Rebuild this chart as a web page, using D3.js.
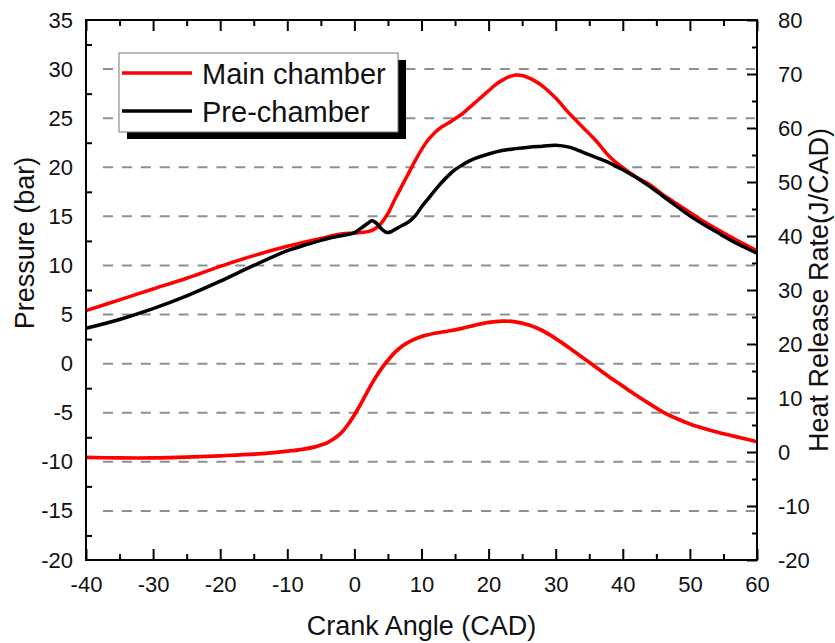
<!DOCTYPE html>
<html><head><meta charset="utf-8">
<script src="https://cdn.jsdelivr.net/npm/d3@7"></script>
<style>body{margin:0;background:#fff}svg{display:block;font-family:"Liberation Sans",Arial,sans-serif}</style>
</head><body><svg id="c" width="835" height="643"></svg>
<script>
// ---- data ----
const xTicks = [-40,-30,-20,-10,0,10,20,30,40,50,60];
const pTicks = [-20,-15,-10,-5,0,5,10,15,20,25,30,35];
const hTicks = [-20,-10,0,10,20,30,40,50,60,70,80];

const mainCAD = [-40,-35,-30,-25,-20,-15,-10,-5,-2,0,2,3,4,5,6,7,8,9,10,11,12,13,14,15,16,17,18,19,20,21,22,23,24,25,26,27,28,30,32,34,36,38,40,42,44,46,48,50,52,54,56,58,60];
const mainP = [5.4,6.5,7.6,8.7,9.9,11.0,11.95,12.75,13.2,13.3,13.45,13.7,14.3,15.3,16.7,18.0,19.3,20.6,21.8,22.8,23.55,24.1,24.5,24.95,25.4,26.0,26.6,27.2,27.8,28.4,28.85,29.2,29.4,29.35,29.1,28.75,28.3,27.05,25.5,24.1,22.7,21.1,19.95,19.0,18.25,17.2,16.3,15.4,14.5,13.7,12.95,12.2,11.5];

const preCAD = [-40,-35,-30,-25,-20,-15,-10,-7,-5,-3,-1,0,1,2,2.6,3.2,4,4.8,5.5,6.5,8,9,10,11,12,13,14,15,16,17,18,20,22,24,26,28,30,32,34,36,38,40,42,44,46,48,50,52,54,56,58,60];
const preP = [3.6,4.5,5.6,6.9,8.4,10.0,11.5,12.15,12.55,12.9,13.15,13.35,13.8,14.3,14.55,14.35,13.75,13.35,13.45,13.85,14.4,15.0,15.95,16.8,17.65,18.45,19.15,19.75,20.2,20.6,20.9,21.35,21.7,21.9,22.05,22.15,22.25,22.05,21.55,21.0,20.45,19.75,18.95,18.05,17.05,16.05,15.05,14.2,13.4,12.6,11.9,11.24];

const hrrCAD = [-40,-35,-30,-25,-20,-15,-12,-10,-8,-6,-5,-4,-3,-2,-1,0,1,2,3,4,5,6,7,8,9,10,12,14,16,18,20,22,24,26,28,30,32,34,36,38,40,42,44,46,48,50,52,54,56,58,60];
const hrr = [-1.0,-1.1,-1.1,-0.95,-0.7,-0.4,-0.1,0.15,0.45,0.9,1.3,1.75,2.5,3.5,5.0,6.9,9.0,11.3,13.5,15.4,17.0,18.4,19.5,20.3,20.9,21.4,22.0,22.4,22.9,23.5,24.0,24.25,24.1,23.5,22.5,21.0,19.3,17.5,15.7,13.9,12.2,10.5,8.9,7.4,6.2,5.2,4.4,3.7,3.1,2.5,1.9];

const legendLabels = ["Main chamber","Pre-chamber"];
const seriesColors = ["#ff0000","#000000"];

// ---- layout ----
const L=86, R=757, T=20, B=560;
const svg = d3.select("#c");
const x = d3.scaleLinear().domain([-40,60]).range([L,R]);
const yP = d3.scaleLinear().domain([-20,35]).range([B,T]);
const yH = d3.scaleLinear().domain([-20,80]).range([B,T]);
const fmt = d => String(d);

// grid
svg.append("g").selectAll("line").data(pTicks.filter(d=>d>-20&&d<35)).join("line")
  .attr("x1",L+17).attr("x2",R-2).attr("y1",d=>yP(d)).attr("y2",d=>yP(d))
  .attr("stroke","#8f8f8f").attr("stroke-width",2).attr("stroke-dasharray","10,8.9");

// lines
const lineP = d3.line().curve(d3.curveCatmullRom.alpha(0.5));
svg.append("path").attr("d", lineP(mainCAD.map((c,i)=>[x(c),yP(mainP[i])])))
  .attr("fill","none").attr("stroke",seriesColors[0]).attr("stroke-width",3.5);
svg.append("path").attr("d", lineP(preCAD.map((c,i)=>[x(c),yP(preP[i])])))
  .attr("fill","none").attr("stroke",seriesColors[1]).attr("stroke-width",3.5);
svg.append("path").attr("d", lineP(hrrCAD.map((c,i)=>[x(c),yH(hrr[i])])))
  .attr("fill","none").attr("stroke",seriesColors[0]).attr("stroke-width",3.7);

// axes
function styleAxis(g){
  g.select(".domain").remove();
  g.selectAll("line").attr("stroke","#000").attr("stroke-width",2);
  g.selectAll("text").attr("font-size",22).attr("fill","#111").attr("font-family","'Liberation Sans',Arial,sans-serif");
}
const xMinor = d3.range(-35,60,10);
// bottom
svg.append("g").attr("transform",`translate(0,${B})`)
  .call(d3.axisBottom(x).tickValues(xTicks).tickFormat(fmt).tickSizeInner(-11).tickSizeOuter(0).tickPadding(16))
  .call(styleAxis);
svg.append("g").attr("transform",`translate(0,${B})`)
  .call(d3.axisBottom(x).tickValues(xMinor).tickFormat("").tickSizeInner(-6).tickSizeOuter(0)).call(styleAxis);
// top
svg.append("g").attr("transform",`translate(0,${T})`)
  .call(d3.axisTop(x).tickValues(xTicks).tickFormat("").tickSizeInner(-11).tickSizeOuter(0)).call(styleAxis);
svg.append("g").attr("transform",`translate(0,${T})`)
  .call(d3.axisTop(x).tickValues(xMinor).tickFormat("").tickSizeInner(-6).tickSizeOuter(0)).call(styleAxis);
// left
svg.append("g").attr("transform",`translate(${L},0)`)
  .call(d3.axisLeft(yP).tickValues(pTicks).tickFormat(fmt).tickSizeInner(0).tickSizeOuter(0).tickPadding(13))
  .call(styleAxis);
svg.append("g").attr("transform",`translate(${L},0)`)
  .call(d3.axisLeft(yP).tickValues(d3.range(-17.5,35,5)).tickFormat("").tickSizeInner(-6).tickSizeOuter(0)).call(styleAxis);
// right
svg.append("g").attr("transform",`translate(${R},0)`)
  .call(d3.axisRight(yH).tickValues(hTicks).tickFormat(fmt).tickSizeInner(-10).tickSizeOuter(0).tickPadding(21))
  .call(styleAxis);
svg.append("g").attr("transform",`translate(${R},0)`)
  .call(d3.axisRight(yH).tickValues(d3.range(-15,80,10)).tickFormat("").tickSizeInner(-5).tickSizeOuter(0)).call(styleAxis);

// frame
svg.append("rect").attr("x",L).attr("y",T).attr("width",R-L).attr("height",B-T)
  .attr("fill","none").attr("stroke","#000").attr("stroke-width",2);

// titles
svg.append("text").attr("x",(L+R)/2).attr("y",635).attr("text-anchor","middle")
  .attr("font-size",27).attr("fill","#111").text("Crank Angle (CAD)");
svg.append("text").attr("transform","translate(34,243) rotate(-90)").attr("text-anchor","middle")
  .attr("font-size",27).attr("fill","#111").text("Pressure (bar)");
svg.append("text").attr("transform","translate(828,290) rotate(-90)").attr("text-anchor","middle")
  .attr("font-size",27).attr("fill","#111").text("Heat Release Rate(J/CAD)");

// legend
const lg = svg.append("g");
lg.append("rect").attr("x",127).attr("y",60).attr("width",279).attr("height",79).attr("fill","#000");
lg.append("rect").attr("x",119).attr("y",53).attr("width",279).attr("height",79).attr("fill","#fff")
  .attr("stroke","#777").attr("stroke-width",1);
legendLabels.forEach((t,i)=>{
  const yy = 73 + i*38;
  lg.append("line").attr("x1",122).attr("x2",192).attr("y1",yy).attr("y2",yy)
    .attr("stroke",seriesColors[i]).attr("stroke-width",3.5);
  lg.append("text").attr("x",202).attr("y",yy+11).attr("font-size",29).attr("fill","#111").text(t);
});
</script></body></html>
